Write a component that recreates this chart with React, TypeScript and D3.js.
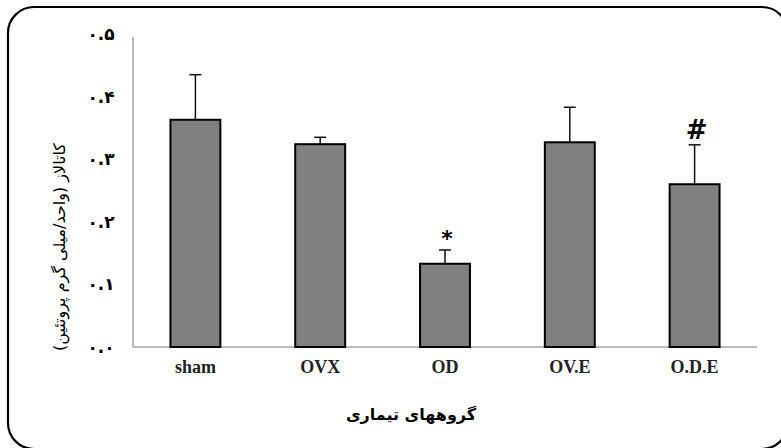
import React from "react";
import * as d3 from "d3";

const groups = ["sham", "OVX", "OD", "OV.E", "O.D.E"];
const means = [0.363, 0.324, 0.133, 0.327, 0.26];
const errors = [0.072, 0.011, 0.022, 0.056, 0.063];
const marks = ["", "", "*", "", "#"];
const yTicks = [0, 0.1, 0.2, 0.3, 0.4, 0.5];
const yTickLabels = ["۰.۰", "۰.۱", "۰.۲", "۰.۳", "۰.۴", "۰.۵"];
const yTitle = "کاتالاز (واحد/میلی گرم پروتئین)";
const xTitle = "گروههای تیماری";

export default function App() {
  const W = 781, H = 448;
  const x = d3.scaleBand<string>().domain(groups).range([133, 757]).paddingInner(0.6).paddingOuter(0.3);
  const y = d3.scaleLinear().domain([0, 0.5]).range([347, 34]);
  const bw = x.bandwidth();
  return (
    <svg width={W} height={H} style={{ position: "absolute", left: 0, top: 0, background: "#fff" }}>
      <rect x={8} y={7} width={780} height={442} rx={26} ry={26} fill="#fff" stroke="#000" strokeWidth={2.2} />
      <line x1={133} x2={133} y1={37} y2={y(0)} stroke="#a6a6a6" strokeWidth={1.5} />
      <line x1={133} x2={757} y1={y(0)} y2={y(0)} stroke="#a6a6a6" strokeWidth={1.5} />
      {yTicks.map((t, i) => (
        <text key={i} x={101} y={y(t)} dy="0.35em" textAnchor="middle" fontFamily="DejaVu Sans" fontWeight="bold" fontSize={17} fill="#000">
          {yTickLabels[i]}
        </text>
      ))}
      {groups.map((g, i) => {
        const cx = (x(g) as number) + bw / 2;
        return (
          <g key={g}>
            <line x1={cx} x2={cx} y1={y(means[i])} y2={y(means[i] + errors[i])} stroke="#111" strokeWidth={1.5} />
            <line x1={cx - 6} x2={cx + 6} y1={y(means[i] + errors[i])} y2={y(means[i] + errors[i])} stroke="#111" strokeWidth={1.5} />
            <rect x={x(g)} y={y(means[i])} width={bw} height={y(0) - y(means[i])} fill="#808080" stroke="#000" strokeWidth={2} />
            {marks[i] && (
              <text x={cx + 2} y={y(means[i] + errors[i]) - (marks[i] === "*" ? 4 : 6)} textAnchor="middle"
                fontFamily="DejaVu Sans" fontWeight="bold" fontSize={marks[i] === "*" ? 22 : 26} fill="#000">
                {marks[i]}
              </text>
            )}
            <text x={cx} y={373} textAnchor="middle" fontFamily="Liberation Serif" fontWeight="bold" fontSize={18} fill="#222">
              {g}
            </text>
          </g>
        );
      })}
      <text transform={`translate(65,247) rotate(-90)`} textAnchor="middle" direction="rtl" fontFamily="DejaVu Sans" fontSize={16} fill="#000">
        {yTitle}
      </text>
      <text x={411} y={420} textAnchor="middle" direction="rtl" fontFamily="DejaVu Sans" fontWeight="bold" fontSize={16} fill="#000">
        {xTitle}
      </text>
    </svg>
  );
}
